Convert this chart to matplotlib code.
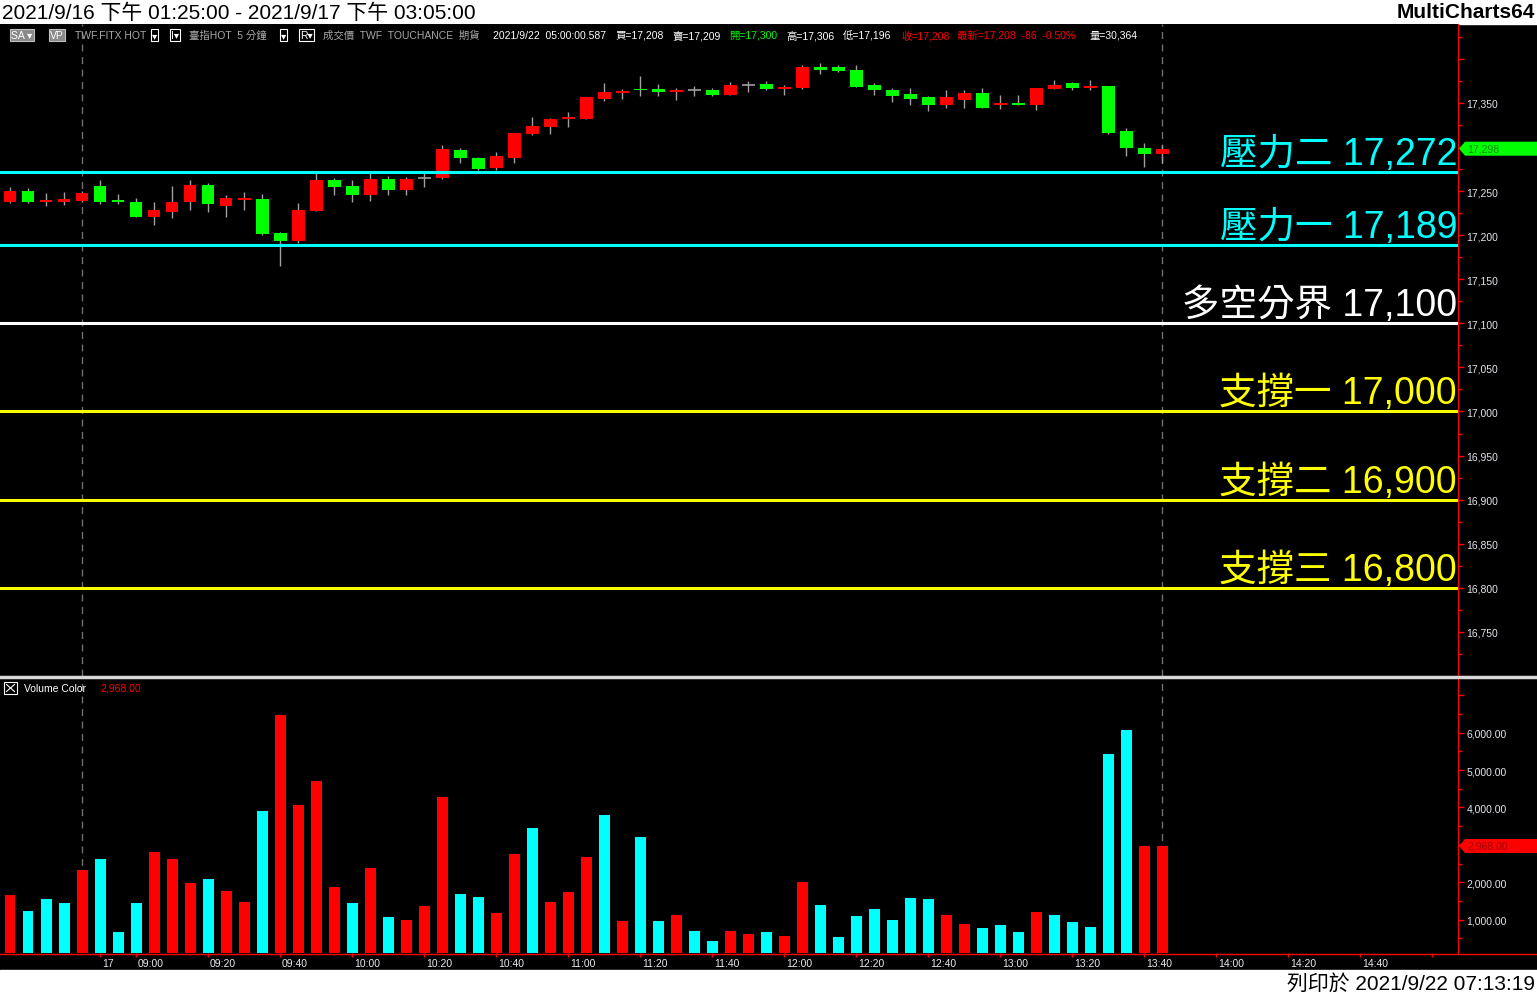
import numpy as np
import matplotlib
matplotlib.use("Agg")
import matplotlib.pyplot as plt
import matplotlib.transforms as mtransforms
from matplotlib.patches import Rectangle, Polygon
from matplotlib.lines import Line2D

# 5-minute bars, TWF.FITX, 9/16 night tail + 9/17 day session
opens = [17237, 17250, 17237, 17238, 17239, 17256, 17240, 17238, 17221, 17226,
         17237, 17257, 17233, 17240, 17241, 17202, 17193, 17227, 17263, 17256,
         17245, 17264, 17251, 17265, 17265, 17297, 17288, 17276, 17288, 17315,
         17323, 17332, 17332, 17354, 17361, 17366, 17366, 17362, 17364, 17364,
         17359, 17370, 17371, 17366, 17367, 17391, 17391, 17387, 17370, 17365,
         17360, 17357, 17347, 17353, 17361, 17347, 17350, 17347, 17366, 17373,
         17367, 17369, 17318, 17299, 17292]
highs = [17255, 17253, 17248, 17249, 17250, 17263, 17247, 17242, 17238, 17256,
         17262, 17259, 17245, 17249, 17247, 17203, 17236, 17270, 17265, 17263,
         17271, 17267, 17266, 17271, 17302, 17299, 17289, 17294, 17316, 17334,
         17333, 17340, 17357, 17372, 17366, 17380, 17371, 17367, 17369, 17367,
         17374, 17375, 17375, 17370, 17393, 17395, 17393, 17393, 17373, 17367,
         17367, 17358, 17364, 17365, 17367, 17359, 17359, 17367, 17376, 17374,
         17376, 17369, 17321, 17305, 17302]
lows = [17236, 17236, 17233, 17234, 17237, 17235, 17235, 17220, 17211, 17219,
        17229, 17226, 17220, 17229, 17200, 17165, 17191, 17227, 17246, 17238,
        17239, 17246, 17246, 17254, 17264, 17282, 17274, 17274, 17282, 17314,
        17315, 17323, 17332, 17352, 17354, 17358, 17358, 17353, 17358, 17358,
        17359, 17362, 17365, 17359, 17366, 17383, 17385, 17368, 17359, 17351,
        17347, 17341, 17344, 17344, 17344, 17343, 17347, 17342, 17366, 17364,
        17365, 17315, 17290, 17277, 17282]
closes = [17250, 17237, 17240, 17241, 17248, 17238, 17238, 17221, 17229, 17238,
          17257, 17235, 17242, 17242, 17201, 17193, 17229, 17262, 17255, 17245,
          17264, 17251, 17264, 17265, 17298, 17287, 17275, 17290, 17316, 17324,
          17332, 17334, 17357, 17362, 17363, 17364, 17362, 17365, 17364, 17359,
          17370, 17370, 17366, 17368, 17391, 17387, 17386, 17368, 17364, 17358,
          17354, 17348, 17357, 17361, 17344, 17350, 17347, 17367, 17370, 17367,
          17369, 17316, 17299, 17292, 17298]
volume = [1658, 1230, 1551, 1444, 2326, 2620, 668, 1444, 2807, 2620,
          1979, 2086, 1765, 1471, 3904, 6471, 4064, 4706, 1872, 1444,
          2380, 1070, 989, 1364, 4278, 1684, 1604, 1176, 2754, 3449,
          1471, 1738, 2674, 3797, 963, 3209, 963, 1123, 695, 428,
          695, 615, 668, 561, 2005, 1390, 535, 1096, 1283, 989,
          1578, 1551, 1123, 882, 775, 856, 668, 1203, 1123, 936,
          802, 5428, 6070, 2960, 2968]
# r = red bar, c = cyan bar (Volume Color study), ten bars per chunk
vol_side = "".join(["rcccrcccrr", "rcrrcrrrrc", "rcrrrccrrc", "rrrcrccrcc",
                    "rrcrrccccc", "ccrrcccrcc", "cccrr"])

levels = [17272, 17189, 17100, 17000, 16900, 16800]
level_names = ["壓力二", "壓力一", "多空分界", "支撐一", "支撐二", "支撐三"]
level_colors = ["#00ffff", "#00ffff", "#ffffff", "#ffff00", "#ffff00", "#ffff00"]

tick_times = ["08:50", "09:00", "09:20", "09:40", "10:00", "10:20", "10:40", "11:00",
              "11:20", "11:40", "12:00", "12:20", "12:40", "13:00", "13:20", "13:40",
              "14:00", "14:20", "14:40", "15:00"]
tick_texts = ["17", "09:00", "09:20", "09:40", "10:00", "10:20", "10:40", "11:00",
              "11:20", "11:40", "12:00", "12:20", "12:40", "13:00", "13:20", "13:40",
              "14:00", "14:20", "14:40", ""]
day_open_bar = 5       # bar index stamped 08:50
separators = [4, 64]   # dashed session lines

W, H = 1537, 995
plt.rcParams['font.family'] = ['Liberation Sans', 'Noto Sans CJK TC', 'DejaVu Sans']
fig = plt.figure(figsize=(W / 100, H / 100), dpi=100, facecolor='black')


def fx(px):
    return px / W


def fy(py):
    return 1 - py / H


ax_p = fig.add_axes([0, fy(677), fx(1458), (677 - 25) / H])
ax_v = fig.add_axes([0, fy(954), fx(1458), (954 - 679) / H])

o = np.array(opens); c = np.array(closes)
hi = np.array(highs); lo = np.array(lows)
x = np.arange(len(o))
XLIM = (-0.556, 80.44)

for ax in (ax_p, ax_v):
    ax.set_facecolor('black')
    ax.set_xlim(*XLIM)
    for s in ('top', 'left', 'bottom'):
        ax.spines[s].set_visible(False)
    ax.spines['right'].set_color('#ff0000')
    ax.yaxis.tick_right()
    ax.tick_params(axis='y', which='both', colors='#ff0000', labelcolor='#e4e6ee',
                   labelsize=7.5, width=1, pad=2)
    ax.tick_params(axis='y', which='major', length=4)
    ax.tick_params(axis='y', which='minor', length=3)
    for i in separators:
        ax.axvline(i, color='#707070', lw=1, ls=(0, (5, 4)), zorder=1)

# ---- price panel
ax_p.set_ylim(16701.8, 17439.4)
ax_p.vlines(x, lo, hi, color='#a0a0a0', lw=1, zorder=2)
up = c > o
dn = c < o
flat = c == o
ax_p.bar(x[up], (c - o)[up], bottom=o[up], width=0.72, color='#ff0000', lw=0, zorder=3)
ax_p.bar(x[dn], (o - c)[dn], bottom=c[dn], width=0.72, color='#00ff00', lw=0, zorder=3)
ax_p.hlines(c[flat], x[flat] - 0.36, x[flat] + 0.36, color='#a0a0a0', lw=1.2, zorder=3)

for lv, name, col in zip(levels, level_names, level_colors):
    ax_p.axhline(lv, color=col, lw=2.2, zorder=4)
    ax_p.annotate(f"{name} {lv:,}", xy=(1, lv), xycoords=('axes fraction', 'data'),
                  xytext=(-1, 8), textcoords='offset pixels', ha='right', va='baseline',
                  fontsize=27, color=col, zorder=5)

pmaj = np.arange(16700, 17401, 50)
ax_p.set_yticks(pmaj)
ax_p.set_yticklabels(["" if v in (16700, 17400) else f"{v:,}" for v in pmaj])
ax_p.set_yticks(np.arange(16725, 17440, 50), minor=True)
ax_p.set_xticks([])

# ---- volume panel
ax_v.set_ylim(107, 7460)
vcol = ['#ff0000' if s == 'r' else '#00ffff' for s in vol_side]
ax_v.bar(x, volume, width=0.61, color=vcol, lw=0, zorder=3)
vmaj = np.arange(1000, 7001, 1000)
ax_v.set_yticks(vmaj)
ax_v.set_yticklabels(["" if v in (3000, 7000) else f"{v:,.2f}" for v in vmaj])
ax_v.set_yticks(np.arange(500, 7000, 1000), minor=True)


def bar_index(hhmm):
    h, m = map(int, hhmm.split(':'))
    return day_open_bar + ((h * 60 + m) - (8 * 60 + 50)) / 5


tick_idx = [bar_index(t) for t in tick_times]
ax_v.set_xticks(tick_idx)
ax_v.set_xticklabels([])
ax_v.tick_params(axis='x', colors='#ff0000', length=3, width=1)
for ti, tt in zip(tick_idx, tick_texts):
    ax_v.annotate(tt, xy=(ti, 0), xycoords=('data', 'axes fraction'), xytext=(2, -5),
                  textcoords='offset pixels', ha='left', va='top', fontsize=7.5,
                  color='#e8e8f0', annotation_clip=False)


def last_marker(ax, value, text, fc, tc):
    trans = mtransforms.blended_transform_factory(fig.transFigure, ax.transData)
    y0, y1 = ax.get_ylim()
    h = 7 * (y1 - y0) / ax.bbox.height
    pts = [(fx(1459), value), (fx(1465), value + h), (1, value + h),
           (1, value - h), (fx(1465), value - h)]
    ax.add_patch(Polygon(pts, closed=True, transform=trans, fc=fc, ec='none',
                         clip_on=False, zorder=6))
    ax.text(fx(1467), value, text, transform=trans, ha='left', va='center',
            fontsize=7.5, color=tc, clip_on=False, zorder=7)


last_marker(ax_p, closes[-1], f"{closes[-1]:,}", '#00ff00', '#008a00')
last_marker(ax_v, volume[-1], f"{volume[-1]:,.2f}", '#ff0000', '#a00000')

# ---- frame lines
fig.add_artist(Line2D([0, 1], [fy(678), fy(678)], color='#d8d8d8', lw=2.5))
fig.add_artist(Line2D([0, 1], [fy(954.5), fy(954.5)], color='#ff0000', lw=1))

# ---- header / footer strips
fig.add_artist(Rectangle((0, fy(25)), 1, 25 / H, transform=fig.transFigure,
                         color='white', zorder=0))
fig.add_artist(Rectangle((0, 0), 1, (H - 971) / H, transform=fig.transFigure,
                         color='white', zorder=0))
fig.text(fx(2), fy(13), "2021/9/16 下午 01:25:00 - 2021/9/17 下午 03:05:00",
         fontsize=15, color='black', va='center', ha='left')
fig.text(fx(1535), fy(13), "MultiCharts64", fontsize=15, fontweight='bold',
         color='black', va='center', ha='right')
fig.text(fx(1535), fy(984), "列印於 2021/9/22 07:13:19", fontsize=15,
         color='black', va='center', ha='right')

# ---- quote line
info = [
    (11, "SA ▾", '#ffffff', 'gray'),
    (50, "VP", '#ffffff', 'gray'),
    (75, "TWF.FITX HOT", '#a8a8a8', None),
    (152, "▾", '#ffffff', 'box'),
    (171, "I▾", '#ffffff', 'box'),
    (189, "臺指HOT  5 分鐘", '#a8a8a8', None),
    (281, "▾", '#ffffff', 'box'),
    (300, "R▾", '#ffffff', 'box'),
    (323, "成交價  TWF  TOUCHANCE  期貨", '#a8a8a8', None),
    (493, "2021/9/22  05:00:00.587", '#ffffff', None),
    (615, "買=17,208", '#ffffff', None),
    (672, "賣=17,209", '#ffffff', None),
    (729, "開=17,300", '#00ff00', None),
    (786, "高=17,306", '#ffffff', None),
    (843, "低=17,196", '#ffffff', None),
    (901, "收=17,208", '#ff0000', None),
    (957, "最新=17,208  -86  -0.50%", '#ff0000', None),
    (1089, "量=30,364", '#ffffff', None),
]
for px, txt, col, box in info:
    kw = {}
    if box == 'gray':
        kw['bbox'] = dict(boxstyle='square,pad=0.12', fc='#8a8a8a', ec='#c0c0c0', lw=0.8)
    elif box == 'box':
        kw['bbox'] = dict(boxstyle='square,pad=0.1', fc='black', ec='#ffffff', lw=0.8)
    fig.text(fx(px), fy(36), txt, fontsize=7.5, color=col, va='center', ha='left',
             family=['Liberation Sans', 'Noto Sans CJK TC', 'DejaVu Sans'], **kw)

# ---- volume study title
fig.add_artist(Rectangle((fx(4), fy(695)), fx(13), 12 / H, transform=fig.transFigure,
                         fc='none', ec='#ffffff', lw=0.8))
fig.add_artist(Line2D([fx(6.5), fx(14.5)], [fy(685.5), fy(692.5)], color='#ffffff', lw=0.8))
fig.add_artist(Line2D([fx(6.5), fx(14.5)], [fy(692.5), fy(685.5)], color='#ffffff', lw=0.8))
fig.text(fx(24), fy(689), "Volume Color", fontsize=7.5, color='#ffffff', va='center')
fig.text(fx(100), fy(689), f"{volume[-1]:,.2f}", fontsize=7.5, color='#ff0000', va='center')

fig.savefig("out.png", dpi=100, facecolor='black')
